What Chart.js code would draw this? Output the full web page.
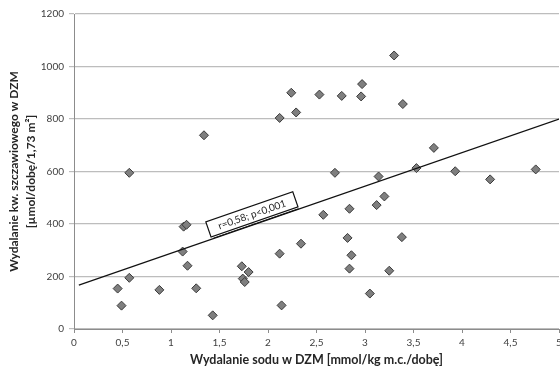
<!DOCTYPE html>
<html>
<head>
<meta charset="utf-8">
<script src="https://cdn.jsdelivr.net/npm/chart.js@4/dist/chart.umd.min.js"></script>
<style>
html,body{margin:0;padding:0;background:#fff;}
#wrap{width:560px;height:372px;position:relative;}
</style>
</head>
<body>
<div id="wrap"><canvas id="c" width="560" height="372"></canvas></div>
<script>
// Data
const sodium = [0.45,0.49,0.57,0.57,0.88,1.12,1.13,1.16,1.17,1.26,1.34,1.43,1.73,1.74,1.76,1.80,2.12,2.12,2.14,2.24,2.29,2.34,2.53,2.57,2.69,2.76,2.82,2.84,2.84,2.86,2.96,2.97,3.05,3.12,3.14,3.20,3.25,3.30,3.38,3.39,3.53,3.71,3.93,4.29,4.76];
const oxalate = [154,89,595,195,149,295,390,397,241,155,738,52,239,192,179,217,804,287,90,900,825,325,893,435,595,888,347,458,230,281,886,933,135,472,581,505,222,1042,350,857,613,690,601,570,608];
const trendX = [0.05, 5];
const trendY = [167, 800];
const xTicks = [0,0.5,1,1.5,2,2.5,3,3.5,4,4.5,5];
const yTicks = [0,200,400,600,800,1000,1200];
const xTitle = 'Wydalanie sodu w DZM [mmol/kg m.c./dobę]';
const yTitle = ['Wydalanie kw. szczawiowego w DZM', '[µmol/dobę/1,73 m²]'];
const annText = 'r=0,58; p<0,001';
const annAt = {x: 1.834, y: 437};

const FONT = 'Lato, "Open Sans", sans-serif';

const annotationPlugin = {
  id: 'corrBox',
  afterDatasetsDraw(chart) {
    const {ctx, scales: {x, y}} = chart;
    const px1 = x.getPixelForValue(trendX[0]), py1 = y.getPixelForValue(trendY[0]);
    const px2 = x.getPixelForValue(trendX[1]), py2 = y.getPixelForValue(trendY[1]);
    const ang = Math.atan2(py2 - py1, px2 - px1);
    const cx = x.getPixelForValue(annAt.x), cy = y.getPixelForValue(annAt.y);
    const w = 92, h = 16;
    ctx.save();
    ctx.translate(cx, cy);
    ctx.rotate(ang);
    ctx.fillStyle = '#fff';
    ctx.fillRect(-w/2, -h/2, w, h);
    ctx.strokeStyle = '#111';
    ctx.lineWidth = 1.2;
    ctx.strokeRect(-w/2, -h/2, w, h);
    ctx.beginPath();
    ctx.lineWidth = 1;
    ctx.moveTo(-w/2 + 2, h/2 + 2);
    ctx.lineTo(w/2, h/2 + 2);
    ctx.stroke();
    ctx.fillStyle = '#222';
    ctx.font = '10px ' + FONT;
    ctx.textAlign = 'center';
    ctx.textBaseline = 'middle';
    ctx.fillText(annText, 0, 0.5);
    ctx.restore();
  }
};

const fmt = v => String(v).replace('.', ',');

new Chart(document.getElementById('c'), {
  type: 'scatter',
  data: {
    datasets: [
      {
        label: 'dane',
        data: sodium.map((v, i) => ({x: v, y: oxalate[i]})),
        pointStyle: 'rectRot',
        pointRadius: 4.5,
        pointBackgroundColor: '#7f7f7f',
        pointBorderColor: '#3a3a3a',
        pointBorderWidth: 1,
        order: 1
      },
      {
        label: 'trend',
        type: 'line',
        data: trendX.map((v, i) => ({x: v, y: trendY[i]})),
        borderColor: '#111',
        borderWidth: 1.2,
        pointRadius: 0,
        fill: false,
        order: 0
      }
    ]
  },
  options: {
    responsive: false,
    animation: false,
    events: [],
    layout: {autoPadding: false, padding: {top: 14, right: 1, left: 0, bottom: 0}},
    plugins: {legend: {display: false}, tooltip: {enabled: false}},
    scales: {
      x: {
        type: 'linear', min: 0, max: 5,
        afterBuildTicks: s => { s.ticks = xTicks.map(v => ({value: v})); },
        afterFit: s => { s.height = 43; s.paddingLeft = 0; s.paddingRight = 0; },
        border: {display: true, color: '#8c8c8c', width: 1},
        grid: {display: true, drawOnChartArea: false, drawTicks: true, tickLength: 4, color: '#8c8c8c'},
        ticks: {callback: v => fmt(v), color: '#404040', font: {family: FONT, size: 10}, padding: 4, maxRotation: 0, autoSkip: false},
        title: {display: true, text: xTitle, color: '#262626', font: {family: FONT, size: 12.5, weight: 'bold', lineHeight: 1.4}, padding: {top: 0, bottom: 3}}
      },
      y: {
        type: 'linear', min: 0, max: 1200,
        afterBuildTicks: s => { s.ticks = yTicks.map(v => ({value: v})); },
        afterFit: s => { s.width = 74; },
        border: {display: true, color: '#8c8c8c', width: 1},
        grid: {display: true, drawTicks: true, tickLength: 5, color: '#bdbdbd', lineWidth: 1.2},
        ticks: {callback: v => String(v), color: '#404040', font: {family: FONT, size: 10}, padding: 5},
        title: {display: true, text: yTitle, color: '#262626', font: {family: FONT, size: 12, weight: 'bold', lineHeight: 1.4}, padding: {top: 6, bottom: 0}}
      }
    }
  },
  plugins: [annotationPlugin]
});
</script>
</body>
</html>
